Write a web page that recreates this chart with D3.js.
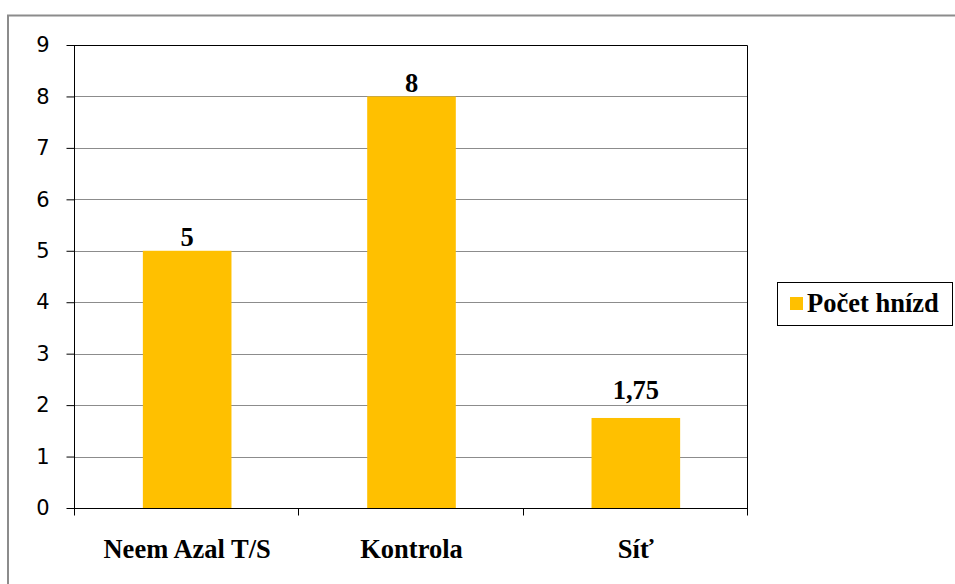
<!DOCTYPE html>
<html><head><meta charset="utf-8">
<script src="https://cdn.jsdelivr.net/npm/d3@7"></script>
<style>body{margin:0;background:#fff;} svg{display:block;} .sf{font-family:"Liberation Serif";font-weight:bold;font-size:26.5px;} .ss{font-family:"DejaVu Sans";font-size:21px;}</style>
</head><body>
<svg id="c" width="955" height="584"></svg>
<script>
const categories = ["Neem Azal T/S", "Kontrola", "Síť"];
const values = [5, 8, 1.75];
const valueLabels = ["5", "8", "1,75"];
const yTicks = [0,1,2,3,4,5,6,7,8,9];
const seriesName = "Počet hnízd";

const svg = d3.select("#c");
const W = 955, H = 584;
const m = {left: 74, right: 747, top: 45, bottom: 508};
const labelGap = [5, 4, 19];

svg.append("rect").attr("width", W).attr("height", H).attr("fill", "#fff");
// outer chart border
svg.append("rect").attr("x", 8).attr("y", 15.5).attr("width", 1200).attr("height", 1200)
  .attr("fill", "none").attr("stroke", "#8c8c8c").attr("stroke-width", 2);

const x = d3.scaleBand().domain(categories).range([m.left, m.right]).padding(0);
const y = d3.scaleLinear().domain([0, 9]).range([m.bottom, m.top]);

// gridlines
svg.append("g").selectAll("line").data(yTicks.filter(d => d > 0 && d < 9)).join("line")
  .attr("x1", m.left).attr("x2", m.right)
  .attr("y1", d => Math.round(y(d)) + 0.5).attr("y2", d => Math.round(y(d)) + 0.5)
  .attr("stroke", "#8c8c8c").attr("stroke-width", 1);

// plot border top/right
svg.append("path")
  .attr("d", `M${m.left},${Math.round(y(9))+0.5}H${m.right+0.5}V${m.bottom}`)
  .attr("fill", "none").attr("stroke", "#000").attr("stroke-width", 1);

// bars
const bw = x.bandwidth() * 0.395;
svg.append("g").selectAll("rect").data(categories).join("rect")
  .attr("x", (d) => x(d) + x.bandwidth()/2 - bw/2 + 1)
  .attr("y", (d,i) => y(values[i]))
  .attr("width", bw)
  .attr("height", (d,i) => y(0) - y(values[i]))
  .attr("fill", "#ffc000");

// value labels
svg.append("g").selectAll("text").data(categories).join("text")
  .attr("class", "sf")
  .attr("x", d => x(d) + x.bandwidth()/2 + 1)
  .attr("y", (d,i) => y(values[i]) - labelGap[i])
  .attr("text-anchor", "middle")
  .attr("fill", "#000")
  .text((d,i) => valueLabels[i]);

// y axis
const yAxis = d3.axisLeft(y).tickValues(yTicks).tickSize(8).tickPadding(17).tickFormat(d3.format("d"));
const gy = svg.append("g").attr("transform", `translate(${m.left + 0.5},0)`).call(yAxis)
  .attr("font-family", null).attr("font-size", null);
gy.select(".domain").attr("stroke", "#000").attr("d", `M0,${m.top}V${m.bottom}`);
gy.selectAll(".tick line").attr("stroke", "#000");
gy.selectAll(".tick text").attr("class", "ss").attr("fill", "#000");

// x axis
const gx = svg.append("g").attr("transform", `translate(0,${m.bottom + 0.5})`);
gx.append("line").attr("x1", m.left).attr("x2", m.right + 1).attr("y1", 0).attr("y2", 0).attr("stroke", "#000");
const bounds = categories.map(d => x(d)).concat([m.right]);
gx.selectAll("line.t").data(bounds).join("line").attr("class", "t")
  .attr("x1", d => Math.round(d) + 0.5).attr("x2", d => Math.round(d) + 0.5)
  .attr("y1", 0).attr("y2", 7).attr("stroke", "#000");
gx.selectAll("text").data(categories).join("text")
  .attr("class", "sf")
  .attr("x", d => x(d) + x.bandwidth()/2 + 1)
  .attr("y", 49)
  .attr("text-anchor", "middle")
  .attr("fill", "#000")
  .text(d => d);

// legend
const lg = svg.append("g");
lg.append("rect").attr("x", 777.5).attr("y", 282.5).attr("width", 175).attr("height", 43)
  .attr("fill", "#fff").attr("stroke", "#000").attr("stroke-width", 1);
lg.append("rect").attr("x", 790).attr("y", 297).attr("width", 13).attr("height", 13).attr("fill", "#ffc000");
lg.append("text").attr("class", "sf").attr("x", 807).attr("y", 312)
  .attr("fill", "#000").text(seriesName);
</script>
</body></html>
